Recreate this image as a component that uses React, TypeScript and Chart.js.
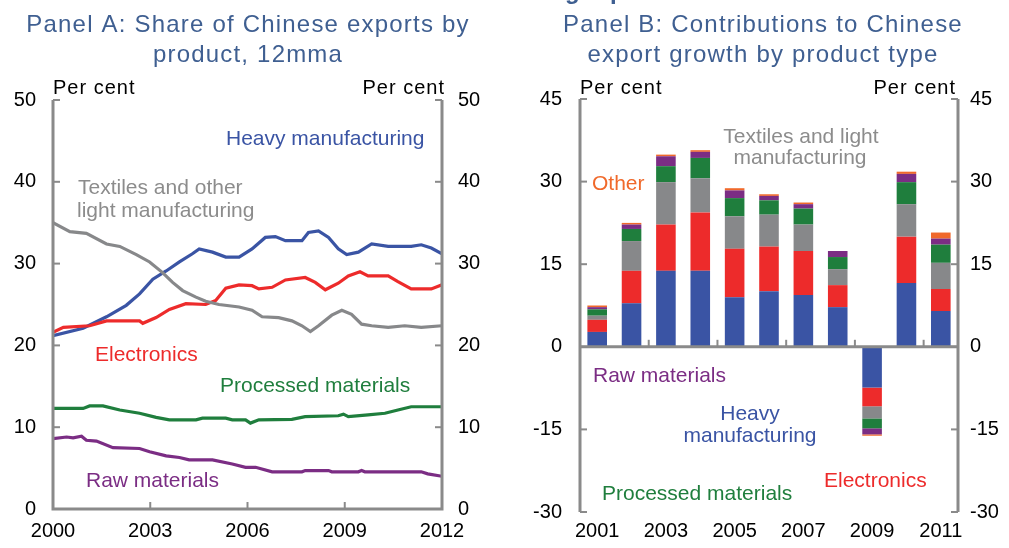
import { useEffect, useRef } from 'react';
import { Chart, registerables } from 'chart.js';

Chart.register(...registerables);

const FONT = "'Liberation Sans', Arial, Helvetica, sans-serif";

// ---------- Panel A data: share of Chinese exports (per cent, 12mma) ----------
const heavyYears = [2000.0, 2000.93, 2001.65, 2002.26, 2002.67, 2003.08, 2003.49, 2003.9, 2004.3, 2004.51, 2004.92, 2005.33, 2005.74, 2006.14, 2006.55, 2006.86, 2007.17, 2007.68, 2007.88, 2008.19, 2008.5, 2008.8, 2009.06, 2009.42, 2009.83, 2010.34, 2011.05, 2011.36, 2011.67, 2012.0];
const heavyShares = [21.2, 22.1, 23.5, 24.9, 26.3, 28.1, 29.1, 30.2, 31.2, 31.8, 31.4, 30.8, 30.8, 31.8, 33.2, 33.3, 32.8, 32.8, 33.8, 34.0, 33.2, 31.8, 31.1, 31.4, 32.4, 32.1, 32.1, 32.3, 31.9, 31.2];

const elecYears = [2000.0, 2000.32, 2001.13, 2001.65, 2002.67, 2002.77, 2003.18, 2003.59, 2004.1, 2004.71, 2005.02, 2005.33, 2005.74, 2006.14, 2006.35, 2006.76, 2007.17, 2007.78, 2008.09, 2008.4, 2008.8, 2009.11, 2009.47, 2009.72, 2010.34, 2010.64, 2011.05, 2011.67, 2012.0];
const elecShares = [21.6, 22.2, 22.4, 23.0, 23.0, 22.7, 23.4, 24.4, 25.1, 25.0, 25.5, 27.0, 27.4, 27.3, 26.9, 27.1, 28.0, 28.3, 27.7, 26.8, 27.6, 28.5, 29.0, 28.5, 28.5, 27.8, 26.9, 26.9, 27.4];

const textYears = [2000.0, 2000.52, 2001.03, 2001.65, 2002.06, 2002.57, 2002.98, 2003.38, 2003.69, 2004.0, 2004.41, 2004.71, 2005.12, 2005.74, 2006.14, 2006.45, 2006.96, 2007.37, 2007.68, 2007.94, 2008.19, 2008.6, 2008.91, 2009.21, 2009.52, 2009.83, 2010.34, 2010.85, 2011.36, 2012.0];
const textShares = [35.0, 33.9, 33.7, 32.4, 32.1, 31.1, 30.2, 28.9, 27.7, 26.7, 25.9, 25.4, 25.0, 24.7, 24.3, 23.5, 23.4, 23.0, 22.4, 21.7, 22.4, 23.7, 24.3, 23.8, 22.6, 22.4, 22.2, 22.4, 22.2, 22.4];

const procYears = [2000.0, 2000.93, 2001.13, 2001.54, 2002.06, 2002.67, 2003.18, 2003.59, 2004.41, 2004.61, 2005.33, 2005.53, 2005.94, 2006.09, 2006.35, 2007.37, 2007.78, 2008.8, 2008.96, 2009.11, 2009.72, 2010.24, 2010.64, 2011.05, 2012.0];
const procShares = [12.3, 12.3, 12.6, 12.6, 12.1, 11.7, 11.2, 10.9, 10.9, 11.1, 11.1, 10.9, 10.9, 10.5, 10.9, 10.95, 11.3, 11.4, 11.6, 11.3, 11.5, 11.7, 12.1, 12.5, 12.5];

const rawYears = [2000.0, 2000.42, 2000.62, 2000.88, 2001.03, 2001.34, 2001.85, 2002.67, 2002.98, 2003.49, 2003.9, 2004.2, 2004.92, 2005.53, 2005.94, 2006.25, 2006.76, 2007.68, 2007.78, 2008.5, 2008.6, 2009.42, 2009.52, 2009.62, 2011.36, 2011.56, 2012.0];
const rawShares = [8.6, 8.8, 8.7, 8.9, 8.4, 8.3, 7.5, 7.4, 7.0, 6.5, 6.3, 6.0, 6.0, 5.5, 5.1, 5.1, 4.55, 4.55, 4.7, 4.7, 4.55, 4.55, 4.7, 4.55, 4.55, 4.3, 4.0];

const yTicksA = [0, 10, 20, 30, 40, 50];
const xTicksA = [2000, 2003, 2006, 2009, 2012];

// ---------- Panel B data: contributions to export growth (ppt) ----------
const yearsB = ['2001', '2002', '2003', '2004', '2005', '2006', '2007', '2008', '2009', '2010', '2011'];
const heavyContrib = [2.7, 7.9, 13.8, 13.8, 9.0, 10.1, 9.4, 7.2, -7.4, 11.6, 6.5];
const elecContrib = [2.2, 5.9, 8.4, 10.6, 8.8, 8.1, 8.0, 4.0, -3.4, 8.4, 4.0];
const textContrib = [0.75, 5.4, 7.7, 6.2, 5.9, 5.8, 4.8, 2.9, -2.2, 5.9, 4.75];
const procContrib = [1.15, 2.2, 2.9, 3.7, 3.3, 2.6, 2.9, 2.2, -1.8, 4.0, 3.3];
const rawContrib = [0.4, 0.8, 1.8, 1.1, 1.4, 0.8, 0.8, 1.1, -1.1, 1.5, 1.1];
const otherContrib = [0.3, 0.3, 0.3, 0.3, 0.4, 0.3, 0.3, 0, -0.25, 0.4, 1.1];
const yTicksB = [-30, -15, 0, 15, 30, 45];

// ---------- styles ----------
const BLUE = '#3A54A4';
const RED = '#ED2B2B';
const GRAY = '#87888A';
const GREEN = '#1F7E3D';
const PURPLE = '#7B2D84';
const ORANGE = '#F0692B';
const TITLE = '#3F5F91';
const AXIS = '#8A8A8A';

type Txt = { t: string; x: number; y: number; c: string; a?: CanvasTextAlign; f?: string; ls?: string };

const textsA: Txt[] = [
  { t: 'Panel A: Share of Chinese exports by', x: 248, y: 32, c: TITLE, a: 'center', f: '24px', ls: '1.2px' },
  { t: 'product, 12mma', x: 248, y: 62, c: TITLE, a: 'center', f: '24px', ls: '1.2px' },
  { t: 'Heavy manufacturing', x: 226, y: 145, c: BLUE },
  { t: 'Textiles and other', x: 78, y: 194, c: '#8C8C8C' },
  { t: 'light manufacturing', x: 77, y: 217, c: '#8C8C8C' },
  { t: 'Electronics', x: 95, y: 361, c: RED },
  { t: 'Processed materials', x: 220, y: 392, c: GREEN },
  { t: 'Raw materials', x: 86, y: 487, c: PURPLE },
];

const textsB: Txt[] = [
  { t: 'Panel B: Contributions to Chinese', x: 263, y: 32, c: TITLE, a: 'center', f: '24px', ls: '1.2px' },
  { t: 'export growth by product type', x: 263, y: 62, c: TITLE, a: 'center', f: '24px', ls: '1.2px' },
  { t: 'g', x: 65, y: -1, c: TITLE, f: 'bold 24px' },
  { t: 'p', x: 110, y: -1, c: TITLE, f: 'bold 24px' },
  { t: 'Textiles and light', x: 301, y: 143, c: '#8C8C8C', a: 'center' },
  { t: 'manufacturing', x: 300, y: 164, c: '#8C8C8C', a: 'center' },
  { t: 'Other', x: 92, y: 190, c: ORANGE },
  { t: 'Raw materials', x: 93, y: 382, c: PURPLE },
  { t: 'Heavy', x: 250, y: 420, c: BLUE, a: 'center' },
  { t: 'manufacturing', x: 250, y: 442, c: BLUE, a: 'center' },
  { t: 'Electronics', x: 324, y: 487, c: RED },
  { t: 'Processed materials', x: 102, y: 500, c: GREEN },
];

function drawTexts(ctx: CanvasRenderingContext2D, list: Txt[]) {
  ctx.save();
  ctx.textBaseline = 'alphabetic';
  for (const it of list) {
    ctx.font = `${it.f || '21px'} ${FONT}`;
    (ctx as any).letterSpacing = it.ls || '0px';
    ctx.fillStyle = it.c;
    ctx.textAlign = it.a || 'left';
    ctx.fillText(it.t, it.x, it.y);
  }
  ctx.restore();
}

function perCent(ctx: CanvasRenderingContext2D, left: number, right: number) {
  ctx.save();
  ctx.font = `20px ${FONT}`;
  (ctx as any).letterSpacing = '1px';
  ctx.fillStyle = '#000';
  ctx.textBaseline = 'alphabetic';
  ctx.textAlign = 'left';
  ctx.fillText('Per cent', left, 94);
  ctx.textAlign = 'right';
  ctx.fillText('Per cent', right, 94);
  ctx.restore();
}

function seg(ctx: CanvasRenderingContext2D, x1: number, y1: number, x2: number, y2: number) {
  ctx.beginPath();
  ctx.moveTo(x1, y1);
  ctx.lineTo(x2, y2);
  ctx.stroke();
}

const frameA = {
  id: 'frameA',
  afterDatasetsDraw(chart: any) {
    const { ctx, chartArea: a, scales } = chart;
    ctx.save();
    ctx.strokeStyle = AXIS;
    ctx.lineWidth = 3;
    ctx.lineJoin = 'miter';
    ctx.beginPath();
    ctx.moveTo(a.left, a.top);
    ctx.lineTo(a.left, a.bottom);
    ctx.lineTo(a.right, a.bottom);
    ctx.lineTo(a.right, a.top);
    ctx.stroke();
    ctx.lineWidth = 2;
    for (const v of yTicksA) {
      const py = scales.y.getPixelForValue(v);
      seg(ctx, a.left, py, a.left + 7, py);
      seg(ctx, a.right - 7, py, a.right, py);
    }
    for (const v of xTicksA.slice(1, -1)) {
      const px = scales.x.getPixelForValue(v);
      seg(ctx, px, a.bottom, px, a.bottom - 7);
    }
    ctx.restore();
  },
  afterDraw(chart: any) {
    const { ctx, chartArea: a } = chart;
    perCent(ctx, a.left, a.right + 3);
    drawTexts(ctx, textsA);
  },
};

const frameB = {
  id: 'frameB',
  afterDatasetsDraw(chart: any) {
    const { ctx, chartArea: a, scales } = chart;
    ctx.save();
    ctx.strokeStyle = AXIS;
    ctx.lineWidth = 3;
    seg(ctx, a.left, a.top, a.left, a.bottom);
    seg(ctx, a.right, a.top, a.right, a.bottom);
    const zy = scales.y.getPixelForValue(0);
    seg(ctx, a.left, zy, a.right, zy);
    ctx.lineWidth = 2;
    for (const v of yTicksB) {
      const py = scales.y.getPixelForValue(v);
      seg(ctx, a.left, py, a.left + 7, py);
      seg(ctx, a.right - 7, py, a.right, py);
    }
    for (let k = 2; k < yearsB.length; k += 2) {
      const px = scales.x.getPixelForValue(k - 0.5);
      seg(ctx, px, zy, px, zy - 7);
    }
    ctx.restore();
  },
  afterDraw(chart: any) {
    const { ctx, chartArea: a } = chart;
    perCent(ctx, a.left, a.right - 2);
    drawTexts(ctx, textsB);
  },
};

const tickFont = { family: FONT, size: 20 };

function yAxis(min: number, max: number, step: number, pos: 'left' | 'right', width: number, pad: number) {
  return {
    type: 'linear' as const,
    position: pos,
    min,
    max,
    grid: { display: false, drawTicks: false },
    border: { display: false },
    ticks: { stepSize: step, color: '#000', font: tickFont, padding: pad, callback: (v: any) => String(v) },
    afterFit: (s: any) => { s.width = width; },
  };
}

function toPoints(xs: number[], ys: number[]) {
  return xs.map((x, i) => ({ x, y: ys[i] }));
}

function PanelA() {
  const ref = useRef<HTMLCanvasElement>(null);
  useEffect(() => {
    const line = (label: string, xs: number[], ys: number[], color: string) => ({
      label,
      data: toPoints(xs, ys),
      borderColor: color,
      borderWidth: 3.2,
      pointRadius: 0,
      tension: 0,
      fill: false,
    });
    const chart = new Chart(ref.current!, {
      type: 'line',
      data: {
        datasets: [
          line('Raw materials', rawYears, rawShares, PURPLE),
          line('Processed materials', procYears, procShares, GREEN),
          line('Textiles and other light manufacturing', textYears, textShares, GRAY),
          line('Electronics', elecYears, elecShares, RED),
          line('Heavy manufacturing', heavyYears, heavyShares, BLUE),
        ],
      },
      options: {
        responsive: false,
        animation: false,
        devicePixelRatio: 1,
        events: [],
        layout: { padding: { top: 100, left: 0, right: 0, bottom: 0 } },
        plugins: { legend: { display: false }, tooltip: { enabled: false } },
        scales: {
          x: {
            type: 'linear',
            min: 2000,
            max: 2012,
            grid: { display: false, drawTicks: false },
            border: { display: false },
            ticks: { stepSize: 3, color: '#000', font: tickFont, padding: 10, maxRotation: 0, callback: (v: any) => String(v) },
            afterFit: (s: any) => { s.height = 39; },
          },
          y: yAxis(0, 50, 10, 'left', 53, 17),
          y2: yAxis(0, 50, 10, 'right', 58, 16),
        },
      } as any,
      plugins: [frameA],
    });
    return () => chart.destroy();
  }, []);
  return <canvas ref={ref} width={500} height={548} style={{ position: 'absolute', left: 0, top: 0, width: 500, height: 548 }} />;
}

function PanelB() {
  const ref = useRef<HTMLCanvasElement>(null);
  useEffect(() => {
    const bar = (label: string, data: number[], color: string) => ({
      label,
      data,
      backgroundColor: color,
      borderWidth: 0,
      barPercentage: 0.57,
      categoryPercentage: 1,
    });
    const chart = new Chart(ref.current!, {
      type: 'bar',
      data: {
        labels: yearsB,
        datasets: [
          bar('Heavy manufacturing', heavyContrib, BLUE),
          bar('Electronics', elecContrib, RED),
          bar('Textiles and light manufacturing', textContrib, GRAY),
          bar('Processed materials', procContrib, GREEN),
          bar('Raw materials', rawContrib, PURPLE),
          bar('Other', otherContrib, ORANGE),
        ],
      },
      options: {
        responsive: false,
        animation: false,
        devicePixelRatio: 1,
        events: [],
        layout: { padding: { top: 99, left: 0, right: 0, bottom: 0 } },
        plugins: { legend: { display: false }, tooltip: { enabled: false } },
        scales: {
          x: {
            type: 'category',
            stacked: true,
            offset: true,
            grid: { display: false, drawTicks: false },
            border: { display: false },
            ticks: {
              color: '#000',
              font: tickFont,
              padding: 7,
              autoSkip: false,
              maxRotation: 0,
              callback: (_v: any, i: number) => (i % 2 === 0 ? yearsB[i] : ''),
            },
            afterFit: (s: any) => { s.height = 36; },
          },
          y: { ...yAxis(-30, 45, 15, 'left', 80, 18), stacked: true },
          y2: yAxis(-30, 45, 15, 'right', 51, 12),
        },
      } as any,
      plugins: [frameB],
    });
    return () => chart.destroy();
  }, []);
  return <canvas ref={ref} width={509} height={548} style={{ position: 'absolute', left: 500, top: 0, width: 509, height: 548 }} />;
}

export default function App() {
  return (
    <div style={{ position: 'absolute', left: 0, top: 0, width: 1009, height: 548, background: '#fff', overflow: 'hidden' }}>
      <PanelA />
      <PanelB />
    </div>
  );
}
